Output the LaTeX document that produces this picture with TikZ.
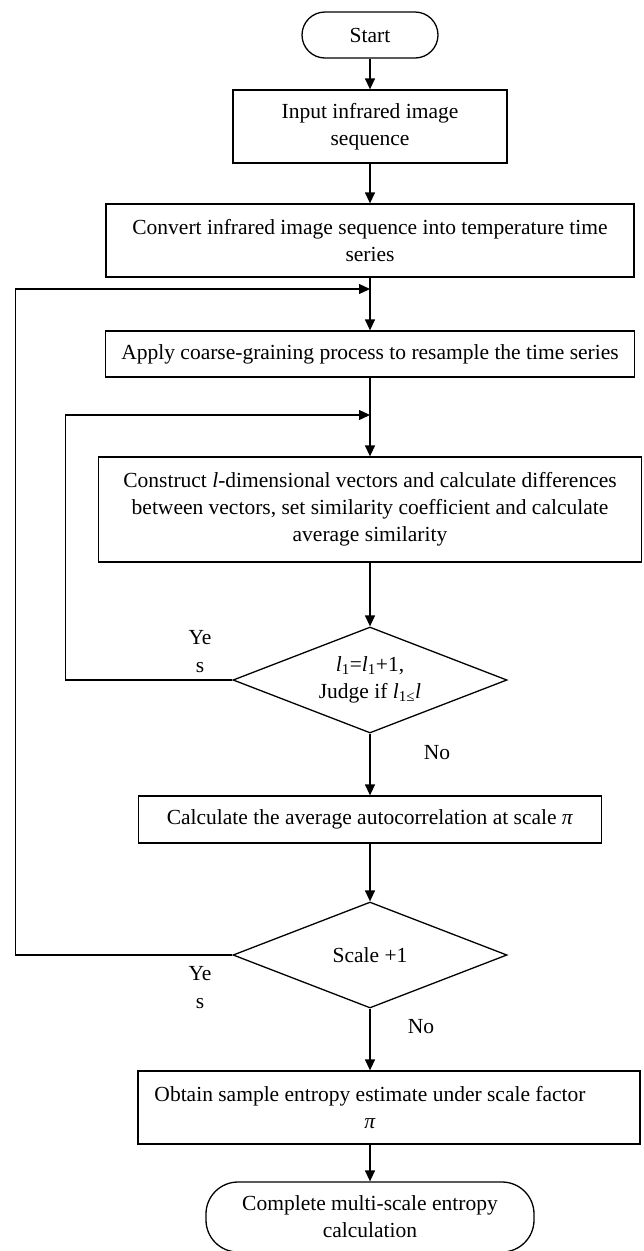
\documentclass[tikz,border=0pt]{standalone}
\usepackage{fontspec}
\setmainfont{Liberation Serif}
\usetikzlibrary{shapes.geometric,arrows.meta}
\begin{document}
\begin{tikzpicture}[x=1pt,y=-1pt,
  every node/.style={font=\fontsize{21.5}{27}\selectfont, inner sep=0pt},
  box/.style={draw, line width=1.3pt, rectangle, align=center},
  term/.style={draw, line width=1.3pt, rectangle, align=center},
  dec/.style={draw, line width=1.3pt, diamond, aspect=2.58, align=center},
  arr/.style={line width=1.3pt, -{Triangle[length=11pt,width=10pt]}},
  lab/.style={align=center}]
\useasboundingbox[fill=white] (0,0) rectangle (644,1251);

\node[term, rounded corners=23pt, minimum width=136pt, minimum height=46pt] (start) at (370,35) {Start};
\node[box, minimum width=274pt, minimum height=73pt] (input) at (370,126.5) {Input infrared image\\sequence};
\node[box, minimum width=528pt, minimum height=73pt] (convert) at (370,240.5) {Convert infrared image sequence into temperature time\\series};
\node[box, minimum width=529pt, minimum height=46pt] (apply) at (370,354) {Apply coarse-graining process to resample the time series};
\node[box, minimum width=543pt, minimum height=105pt] (construct) at (370,509.5) {Construct \textit{l}-dimensional vectors and calculate differences\\between vectors, set similarity coefficient and calculate\\average similarity};
\node[dec, minimum width=274pt, minimum height=106pt] (d1) at (370,680) {\textit{l}\textsubscript{1}=\textit{l}\textsubscript{1}+1,\\Judge if \textit{l}\textsubscript{1≤}\textit{l}};
\node[box, minimum width=463pt, minimum height=47pt] (calc) at (370,819.5) {Calculate the average autocorrelation at scale \textit{π}};
\node[dec, minimum width=274pt, minimum height=106pt] (d2) at (370,955) {Scale +1};
\node[box, minimum width=502pt, minimum height=73pt] (obtain) at (389,1107.5) {};
\node[lab] (obtaintext) at (370,1107.5) {Obtain sample entropy estimate under scale factor\\\textit{π}};
\node[term, rounded corners=32pt, minimum width=328pt, minimum height=70pt] (end) at (370,1217) {Complete multi-scale entropy\\calculation};

\coordinate (fb1) at (370,289);
\coordinate (fb2) at (370,415);

\draw[arr] (start) -- (input);
\draw[arr] (input) -- (convert);
\draw[arr] (convert) -- (apply);
\draw[arr] (apply) -- (construct);
\draw[arr] (construct) -- (d1);
\draw[arr] (d1) -- (calc);
\draw[arr] (calc) -- (d2);
\draw[arr] (d2.south) -- (d2.south |- obtain.north);
\draw[arr] (obtain.south -| d2.south) -- (end);
\draw[arr] (d1.west) -- ++(-167,0) |- (fb2);
\draw[arr] (d2.west) -- ++(-217,0) |- (fb1);

\node[lab, font=\fontsize{21.5}{28}\selectfont] (yes1) at (200,652) {Ye\\s};
\node[lab, font=\fontsize{21.5}{28}\selectfont] (yes2) at (200,987.5) {Ye\\s};
\node[lab] (no1) at (437,753) {No};
\node[lab] (no2) at (421,1027) {No};
\end{tikzpicture}
\end{document}
